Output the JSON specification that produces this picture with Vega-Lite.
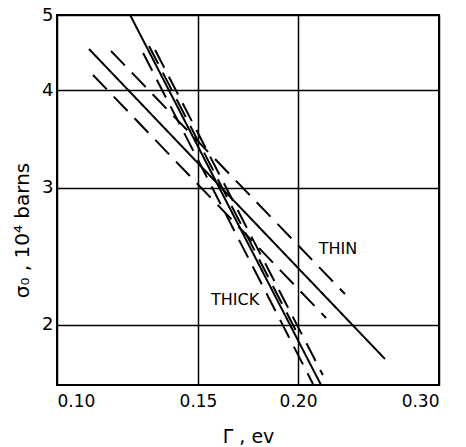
{
  "$schema": "https://vega.github.io/schema/vega-lite/v6.json",
  "width": 382,
  "height": 370,
  "autosize": {"type": "none"},
  "padding": {"left": 57, "top": 15, "right": 27, "bottom": 62},
  "background": "white",
  "config": {
    "view": {"stroke": "black", "strokeWidth": 2},
    "axis": {
      "grid": true,
      "gridColor": "black",
      "gridWidth": 1.5,
      "gridOpacity": 1,
      "ticks": false,
      "domain": false,
      "labelFont": "DejaVu Sans",
      "labelColor": "black",
      "titleFont": "DejaVu Sans",
      "titleColor": "black",
      "titleFontWeight": "normal"
    }
  },
  "datasets": {
    "lines": [
      {"line": "thick", "style": "solid", "gamma": 0.1234, "sigma": 5.0},
      {"line": "thick", "style": "solid", "gamma": 0.2137, "sigma": 1.673},
      {"line": "thickL", "style": "dashed", "gamma": 0.1281, "sigma": 4.468},
      {"line": "thickL", "style": "dashed", "gamma": 0.2088, "sigma": 1.678},
      {"line": "thickR1", "style": "dashed", "gamma": 0.1303, "sigma": 4.562},
      {"line": "thickR1", "style": "dashed", "gamma": 0.1986, "sigma": 1.969},
      {"line": "thickR2", "style": "dashed", "gamma": 0.1326, "sigma": 4.508},
      {"line": "thickR2", "style": "dashed", "gamma": 0.2148, "sigma": 1.723},
      {"line": "thin", "style": "solid", "gamma": 0.10964, "sigma": 4.521},
      {"line": "thin", "style": "solid", "gamma": 0.2568, "sigma": 1.807},
      {"line": "thinU", "style": "dashed", "gamma": 0.1168, "sigma": 4.495},
      {"line": "thinU", "style": "dashed", "gamma": 0.2289, "sigma": 2.19},
      {"line": "thinL", "style": "dashed", "gamma": 0.1109, "sigma": 4.187},
      {"line": "thinL", "style": "dashed", "gamma": 0.2168, "sigma": 2.04}
    ],
    "labels": [
      {"text": "THIN", "gamma": 0.2244, "sigma": 2.502},
      {"text": "THICK", "gamma": 0.1669, "sigma": 2.152}
    ]
  },
  "layer": [
    {
      "data": {"name": "lines"},
      "mark": {"type": "line", "color": "black", "strokeWidth": 2, "clip": true},
      "encoding": {
        "x": {
          "field": "gamma",
          "type": "quantitative",
          "scale": {"type": "log", "domain": [0.1, 0.3], "nice": false},
          "axis": {
            "values": [0.1, 0.15, 0.2, 0.3],
            "format": ".2f",
            "labelFontSize": 17,
            "labelPadding": 8,
            "title": "Γ , ev",
            "titleFontSize": 19,
            "titlePadding": 18
          }
        },
        "y": {
          "field": "sigma",
          "type": "quantitative",
          "scale": {"type": "log", "domain": [1.673, 5], "nice": false},
          "axis": {
            "values": [2, 3, 4, 5],
            "format": "d",
            "labelFontSize": 18,
            "labelPadding": 4,
            "title": "σ₀ , 10⁴ barns",
            "titleFontSize": 20,
            "titleAngle": 270,
            "titleBaseline": "middle",
            "titleX": -35,
            "titleY": 215
          }
        },
        "detail": {"field": "line"},
        "strokeDash": {
          "field": "style",
          "type": "nominal",
          "scale": {"domain": ["solid", "dashed"], "range": [[1, 0], [20, 10]]},
          "legend": null
        }
      }
    },
    {
      "data": {"name": "labels"},
      "mark": {"type": "text", "font": "DejaVu Sans", "fontSize": 16, "color": "black"},
      "encoding": {
        "x": {"field": "gamma", "type": "quantitative"},
        "y": {"field": "sigma", "type": "quantitative"},
        "text": {"field": "text"}
      }
    }
  ]
}
